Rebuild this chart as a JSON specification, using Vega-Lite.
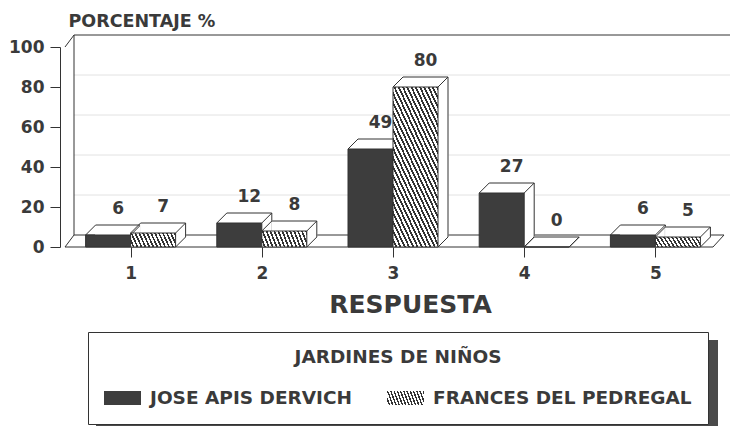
{
  "$schema": "https://vega.github.io/schema/vega-lite/v6.json",
  "width": 666,
  "height": 200,
  "autosize": "none",
  "padding": {"left": 60, "top": 47, "right": 6, "bottom": 179},
  "background": "white",
  "config": {"view": {"stroke": null}, "font": "DejaVu Sans", "axis": {"labelOverlap": false}, "axisY": {"labelOverlap": false}},
  "datasets": {
    "bars": [
      {"cat": 1, "series": "JOSE APIS DERVICH", "value": 6},
      {"cat": 2, "series": "JOSE APIS DERVICH", "value": 12},
      {"cat": 3, "series": "JOSE APIS DERVICH", "value": 49},
      {"cat": 4, "series": "JOSE APIS DERVICH", "value": 27},
      {"cat": 5, "series": "JOSE APIS DERVICH", "value": 6},
      {"cat": 1, "series": "FRANCES DEL PEDREGAL", "value": 7},
      {"cat": 2, "series": "FRANCES DEL PEDREGAL", "value": 8},
      {"cat": 3, "series": "FRANCES DEL PEDREGAL", "value": 80},
      {"cat": 4, "series": "FRANCES DEL PEDREGAL", "value": 0},
      {"cat": 5, "series": "FRANCES DEL PEDREGAL", "value": 5}
    ],
    "grid": [{"v": 20}, {"v": 40}, {"v": 60}, {"v": 80}],
    "frame": [{}]
  },
  "data": {"name": "bars"},
  "layer": [
    {
      "data": {"name": "grid"},
      "mark": {"type": "rule", "color": "#e2e2e2", "strokeWidth": 1, "xOffset": 9, "x2Offset": 9, "yOffset": -12, "y2Offset": -12},
      "encoding": {
        "x": {"datum": 0.5, "type": "quantitative", "scale": {"domain": [0.5, 5.5], "nice": false, "zero": false},
          "axis": {"values": [1, 2, 3, 4, 5], "format": "d", "domain": false, "grid": false, "tickSize": 10, "tickColor": "#333", "tickWidth": 1, "labelPadding": 8, "labelFontSize": 17, "labelFontWeight": "bold", "labelColor": "#3a3a3a", "labelFlush": false, "labelOverlap": false, "title": "RESPUESTA", "titleFontSize": 25, "titleFontWeight": "bold", "titleColor": "#3a3a3a", "titleX": 350, "titleY": 65, "titleAlign": "center", "titleBaseline": "alphabetic"}},
        "x2": {"datum": 5.5},
        "y": {"field": "v", "type": "quantitative", "scale": {"domain": [0, 100], "nice": false},
          "axis": {"values": [0, 20, 40, 60, 80, 100], "tickCount": 6, "domain": true, "domainColor": "#333", "grid": false, "tickSize": 10, "tickColor": "#333", "labelPadding": 6, "labelFontSize": 17, "labelFontWeight": "bold", "labelColor": "#3a3a3a", "labelFlush": false, "labelOverlap": false, "labelBound": false, "title": "PORCENTAJE %", "titleAngle": 0, "titleX": 8, "titleY": -21, "titleAlign": "left", "titleBaseline": "alphabetic", "titleFontSize": 17.5, "titleFontWeight": "bold", "titleColor": "#3a3a3a"}}
      }
    },
    {
      "data": {"name": "frame"},
      "mark": {"type": "rule", "color": "#333", "strokeWidth": 1, "xOffset": 9, "x2Offset": 9, "yOffset": -12, "y2Offset": -12},
      "encoding": {"x": {"datum": 0.5, "type": "quantitative"}, "x2": {"datum": 5.5}, "y": {"datum": 100, "type": "quantitative"}}
    },
    {
      "data": {"name": "frame"},
      "mark": {"type": "rule", "color": "#333", "strokeWidth": 1, "xOffset": 9, "x2Offset": 9, "yOffset": -12, "y2Offset": -12},
      "encoding": {"x": {"datum": 0.5, "type": "quantitative"}, "y": {"datum": 0, "type": "quantitative"}, "y2": {"datum": 100}}
    },
    {
      "data": {"name": "frame"},
      "mark": {"type": "rule", "color": "#333", "strokeWidth": 1, "xOffset": 0, "x2Offset": 9, "yOffset": 0, "y2Offset": -12},
      "encoding": {"x": {"datum": 0.5, "type": "quantitative"}, "x2": {"datum": 0.5}, "y": {"datum": 100, "type": "quantitative"}, "y2": {"datum": 100}}
    },
    {
      "data": {"name": "frame"},
      "mark": {"type": "rule", "color": "#333", "strokeWidth": 1, "xOffset": 0, "x2Offset": 9, "yOffset": 0, "y2Offset": -12},
      "encoding": {"x": {"datum": 0.5, "type": "quantitative"}, "x2": {"datum": 0.5}, "y": {"datum": 0, "type": "quantitative"}, "y2": {"datum": 0}}
    },
    {
      "data": {"name": "frame"},
      "mark": {"type": "rule", "color": "#333", "strokeWidth": 1, "x2Offset": -8},
      "encoding": {"x": {"datum": 0.5, "type": "quantitative"}, "x2": {"datum": 5.5}, "y": {"datum": 0, "type": "quantitative"}}
    },
    {
      "data": {"name": "frame"},
      "mark": {"type": "rule", "color": "#333", "strokeWidth": 1, "xOffset": 9, "x2Offset": 3, "yOffset": -12, "y2Offset": -12},
      "encoding": {"x": {"datum": 0.5, "type": "quantitative"}, "x2": {"datum": 5.5}, "y": {"datum": 0, "type": "quantitative"}}
    },
    {
      "data": {"name": "frame"},
      "mark": {"type": "rule", "color": "#333", "strokeWidth": 1, "xOffset": -8, "x2Offset": 3, "yOffset": 0, "y2Offset": -12},
      "encoding": {"x": {"datum": 5.5, "type": "quantitative"}, "x2": {"datum": 5.5}, "y": {"datum": 0, "type": "quantitative"}, "y2": {"datum": 0}}
    },
    {
      "transform": [{"filter": "datum.series === 'JOSE APIS DERVICH'"}],
      "mark": {"type": "point", "filled": true, "opacity": 0, "shape": "M-1,-1H1V-0.717H-1Z"},
      "encoding": {
        "x": {"field": "cat", "type": "quantitative"},
        "y": {"field": "value", "type": "quantitative"},
        "color": {"field": "series", "type": "nominal",
          "scale": {"domain": ["JOSE APIS DERVICH"], "range": ["#4a4a4a"]},
          "legend": {"orient": "none", "legendX": 36, "legendY": 293, "title": null, "labelExpr": "''", "labelOffset": 0, "labelFontSize": 1,
            "symbolType": "M-1,-1H1V-0.717H-1Z", "symbolSize": 386884, "symbolOpacity": 1, "symbolStrokeWidth": 0,
            "padding": 0, "strokeColor": null, "fillColor": null}
        }
      }
    },

    {
      "transform": [{"filter": "datum.series === 'JOSE APIS DERVICH'"}],
      "mark": {"type": "bar", "width": 45, "xOffset": -12.5, "yOffset": -10, "y2Offset": -10, "fill": "white", "stroke": "white", "strokeWidth": 1},
      "encoding": {"x": {"field": "cat", "type": "quantitative"}, "y": {"field": "value", "type": "quantitative", "stack": null}, "y2": {"datum": 0}}
    },
    {
      "transform": [{"filter": "datum.series === 'JOSE APIS DERVICH'"}],
      "mark": {"type": "bar", "width": 45, "xOffset": -22.5, "stroke": "#333", "strokeWidth": 1},
      "encoding": {
        "x": {"field": "cat", "type": "quantitative"},
        "y": {"field": "value", "type": "quantitative", "stack": null},
        "y2": {"datum": 0},
        "fill": {"field": "series", "type": "nominal", "scale": {"domain": ["JOSE APIS DERVICH"], "range": ["#3d3d3d"]}, "legend": null},
        "opacity": {"field": "series", "type": "nominal",
          "scale": {"domain": ["JOSE APIS DERVICH", "FRANCES DEL PEDREGAL"], "range": [1, 1]},
          "legend": {"orient": "none", "legendX": 28, "legendY": 285, "direction": "horizontal", "columns": 2, "columnPadding": 34,
            "title": "JARDINES DE NIÑOS", "titleFontSize": 18.5, "titleFontWeight": "bold", "titleColor": "#3a3a3a", "titleAnchor": "middle", "titlePadding": 13, "titleLimit": 600,
            "labelFontSize": 18.5, "labelFontWeight": "bold", "labelColor": "#3a3a3a", "labelLimit": 400, "labelOffset": 9,
            "symbolType": "M-1,-0.378H1V0.378H-1Z", "symbolSize": 1369, "symbolOpacity": 1, "symbolStrokeWidth": 0,
            "symbolFillColor": {"expr": "datum.value === 'FRANCES DEL PEDREGAL' ? {gradient: 'linear', x1: 0, y1: 1, x2: 1.118, y2: 0.8435, stops: [{offset: 0, color: '#fff'}, {offset: 0.0423, color: '#fff'}, {offset: 0.0423, color: '#333'}, {offset: 0.0769, color: '#333'}, {offset: 0.0769, color: '#fff'}, {offset: 0.1192, color: '#fff'}, {offset: 0.1192, color: '#333'}, {offset: 0.1538, color: '#333'}, {offset: 0.1538, color: '#fff'}, {offset: 0.1961, color: '#fff'}, {offset: 0.1961, color: '#333'}, {offset: 0.2308, color: '#333'}, {offset: 0.2308, color: '#fff'}, {offset: 0.2731, color: '#fff'}, {offset: 0.2731, color: '#333'}, {offset: 0.3077, color: '#333'}, {offset: 0.3077, color: '#fff'}, {offset: 0.35, color: '#fff'}, {offset: 0.35, color: '#333'}, {offset: 0.3846, color: '#333'}, {offset: 0.3846, color: '#fff'}, {offset: 0.4269, color: '#fff'}, {offset: 0.4269, color: '#333'}, {offset: 0.4615, color: '#333'}, {offset: 0.4615, color: '#fff'}, {offset: 0.5038, color: '#fff'}, {offset: 0.5038, color: '#333'}, {offset: 0.5385, color: '#333'}, {offset: 0.5385, color: '#fff'}, {offset: 0.5808, color: '#fff'}, {offset: 0.5808, color: '#333'}, {offset: 0.6154, color: '#333'}, {offset: 0.6154, color: '#fff'}, {offset: 0.6577, color: '#fff'}, {offset: 0.6577, color: '#333'}, {offset: 0.6923, color: '#333'}, {offset: 0.6923, color: '#fff'}, {offset: 0.7346, color: '#fff'}, {offset: 0.7346, color: '#333'}, {offset: 0.7692, color: '#333'}, {offset: 0.7692, color: '#fff'}, {offset: 0.8115, color: '#fff'}, {offset: 0.8115, color: '#333'}, {offset: 0.8462, color: '#333'}, {offset: 0.8462, color: '#fff'}, {offset: 0.8885, color: '#fff'}, {offset: 0.8885, color: '#333'}, {offset: 0.9231, color: '#333'}, {offset: 0.9231, color: '#fff'}, {offset: 0.9654, color: '#fff'}, {offset: 0.9654, color: '#333'}, {offset: 1, color: '#333'}]} : '#3d3d3d'"},
            "padding": 16, "strokeColor": "#333", "fillColor": "white", "cornerRadius": 0}
        }
      }
    },
    {
      "transform": [{"filter": "datum.series === 'JOSE APIS DERVICH'"}],
      "mark": {"type": "rule", "color": "#333", "strokeWidth": 1, "xOffset": -35, "x2Offset": 10, "yOffset": -10, "y2Offset": -10},
      "encoding": {"x": {"field": "cat", "type": "quantitative"}, "x2": {"field": "cat"}, "y": {"field": "value", "type": "quantitative"}}
    },
    {
      "transform": [{"filter": "datum.series === 'JOSE APIS DERVICH'"}],
      "mark": {"type": "rule", "color": "#333", "strokeWidth": 1, "xOffset": 10, "x2Offset": 10, "yOffset": -10, "y2Offset": -10},
      "encoding": {"x": {"field": "cat", "type": "quantitative"}, "y": {"field": "value", "type": "quantitative"}, "y2": {"datum": 0}}
    },
    {
      "transform": [{"filter": "datum.series === 'JOSE APIS DERVICH'"}],
      "mark": {"type": "rule", "color": "#333", "strokeWidth": 1, "xOffset": -45, "x2Offset": -35, "yOffset": 0, "y2Offset": -10},
      "encoding": {"x": {"field": "cat", "type": "quantitative"}, "x2": {"field": "cat"}, "y": {"field": "value", "type": "quantitative"}, "y2": {"field": "value"}}
    },
    {
      "transform": [{"filter": "datum.series === 'JOSE APIS DERVICH'"}],
      "mark": {"type": "rule", "color": "#333", "strokeWidth": 1, "xOffset": 0, "x2Offset": 10, "yOffset": 0, "y2Offset": -10},
      "encoding": {"x": {"field": "cat", "type": "quantitative"}, "x2": {"field": "cat"}, "y": {"field": "value", "type": "quantitative"}, "y2": {"field": "value"}}
    },
    {
      "transform": [{"filter": "datum.series === 'JOSE APIS DERVICH'"}],
      "mark": {"type": "rule", "color": "#333", "strokeWidth": 1, "xOffset": 0, "x2Offset": 10, "yOffset": 0, "y2Offset": -10},
      "encoding": {"x": {"field": "cat", "type": "quantitative"}, "x2": {"field": "cat"}, "y": {"datum": 0, "type": "quantitative"}, "y2": {"datum": 0}}
    },

    {
      "transform": [{"filter": "datum.series === 'FRANCES DEL PEDREGAL'"}],
      "mark": {"type": "bar", "width": 45, "xOffset": 32.5, "yOffset": -10, "y2Offset": -10, "fill": "white", "stroke": "white", "strokeWidth": 1},
      "encoding": {"x": {"field": "cat", "type": "quantitative"}, "y": {"field": "value", "type": "quantitative", "stack": null}, "y2": {"datum": 0}}
    },
    {
      "transform": [{"filter": "datum.series === 'FRANCES DEL PEDREGAL'"}],
      "mark": {"type": "bar", "width": 45, "xOffset": 22.5, "stroke": "#333", "strokeWidth": 1},
      "encoding": {
        "x": {"field": "cat", "type": "quantitative"},
        "y": {"field": "value", "type": "quantitative", "stack": null},
        "y2": {"datum": 0},
        "fill": {
          "condition": {"test": "datum.value > 50", "value": {"gradient": "linear", "x1": 0, "y1": 1, "x2": 0.7093, "y2": -0.1753, "stops": [
              {"offset": 0, "color": "#fff"}, {"offset": 0.0196, "color": "#fff"}, {"offset": 0.0196, "color": "#333"}, {"offset": 0.0357, "color": "#333"},
              {"offset": 0.0357, "color": "#fff"}, {"offset": 0.0553, "color": "#fff"}, {"offset": 0.0553, "color": "#333"}, {"offset": 0.0714, "color": "#333"},
              {"offset": 0.0714, "color": "#fff"}, {"offset": 0.091, "color": "#fff"}, {"offset": 0.091, "color": "#333"}, {"offset": 0.1071, "color": "#333"},
              {"offset": 0.1071, "color": "#fff"}, {"offset": 0.1267, "color": "#fff"}, {"offset": 0.1267, "color": "#333"}, {"offset": 0.1429, "color": "#333"},
              {"offset": 0.1429, "color": "#fff"}, {"offset": 0.1625, "color": "#fff"}, {"offset": 0.1625, "color": "#333"}, {"offset": 0.1786, "color": "#333"},
              {"offset": 0.1786, "color": "#fff"}, {"offset": 0.1982, "color": "#fff"}, {"offset": 0.1982, "color": "#333"}, {"offset": 0.2143, "color": "#333"},
              {"offset": 0.2143, "color": "#fff"}, {"offset": 0.2339, "color": "#fff"}, {"offset": 0.2339, "color": "#333"}, {"offset": 0.25, "color": "#333"},
              {"offset": 0.25, "color": "#fff"}, {"offset": 0.2696, "color": "#fff"}, {"offset": 0.2696, "color": "#333"}, {"offset": 0.2857, "color": "#333"},
              {"offset": 0.2857, "color": "#fff"}, {"offset": 0.3053, "color": "#fff"}, {"offset": 0.3053, "color": "#333"}, {"offset": 0.3214, "color": "#333"},
              {"offset": 0.3214, "color": "#fff"}, {"offset": 0.341, "color": "#fff"}, {"offset": 0.341, "color": "#333"}, {"offset": 0.3571, "color": "#333"},
              {"offset": 0.3571, "color": "#fff"}, {"offset": 0.3767, "color": "#fff"}, {"offset": 0.3767, "color": "#333"}, {"offset": 0.3929, "color": "#333"},
              {"offset": 0.3929, "color": "#fff"}, {"offset": 0.4125, "color": "#fff"}, {"offset": 0.4125, "color": "#333"}, {"offset": 0.4286, "color": "#333"},
              {"offset": 0.4286, "color": "#fff"}, {"offset": 0.4482, "color": "#fff"}, {"offset": 0.4482, "color": "#333"}, {"offset": 0.4643, "color": "#333"},
              {"offset": 0.4643, "color": "#fff"}, {"offset": 0.4839, "color": "#fff"}, {"offset": 0.4839, "color": "#333"}, {"offset": 0.5, "color": "#333"},
              {"offset": 0.5, "color": "#fff"}, {"offset": 0.5196, "color": "#fff"}, {"offset": 0.5196, "color": "#333"}, {"offset": 0.5357, "color": "#333"},
              {"offset": 0.5357, "color": "#fff"}, {"offset": 0.5553, "color": "#fff"}, {"offset": 0.5553, "color": "#333"}, {"offset": 0.5714, "color": "#333"},
              {"offset": 0.5714, "color": "#fff"}, {"offset": 0.591, "color": "#fff"}, {"offset": 0.591, "color": "#333"}, {"offset": 0.6071, "color": "#333"},
              {"offset": 0.6071, "color": "#fff"}, {"offset": 0.6267, "color": "#fff"}, {"offset": 0.6267, "color": "#333"}, {"offset": 0.6429, "color": "#333"},
              {"offset": 0.6429, "color": "#fff"}, {"offset": 0.6625, "color": "#fff"}, {"offset": 0.6625, "color": "#333"}, {"offset": 0.6786, "color": "#333"},
              {"offset": 0.6786, "color": "#fff"}, {"offset": 0.6982, "color": "#fff"}, {"offset": 0.6982, "color": "#333"}, {"offset": 0.7143, "color": "#333"},
              {"offset": 0.7143, "color": "#fff"}, {"offset": 0.7339, "color": "#fff"}, {"offset": 0.7339, "color": "#333"}, {"offset": 0.75, "color": "#333"},
              {"offset": 0.75, "color": "#fff"}, {"offset": 0.7696, "color": "#fff"}, {"offset": 0.7696, "color": "#333"}, {"offset": 0.7857, "color": "#333"},
              {"offset": 0.7857, "color": "#fff"}, {"offset": 0.8053, "color": "#fff"}, {"offset": 0.8053, "color": "#333"}, {"offset": 0.8214, "color": "#333"},
              {"offset": 0.8214, "color": "#fff"}, {"offset": 0.841, "color": "#fff"}, {"offset": 0.841, "color": "#333"}, {"offset": 0.8571, "color": "#333"},
              {"offset": 0.8571, "color": "#fff"}, {"offset": 0.8767, "color": "#fff"}, {"offset": 0.8767, "color": "#333"}, {"offset": 0.8929, "color": "#333"},
              {"offset": 0.8929, "color": "#fff"}, {"offset": 0.9125, "color": "#fff"}, {"offset": 0.9125, "color": "#333"}, {"offset": 0.9286, "color": "#333"},
              {"offset": 0.9286, "color": "#fff"}, {"offset": 0.9482, "color": "#fff"}, {"offset": 0.9482, "color": "#333"}, {"offset": 0.9643, "color": "#333"},
              {"offset": 0.9643, "color": "#fff"}, {"offset": 0.9839, "color": "#fff"}, {"offset": 0.9839, "color": "#333"}, {"offset": 1, "color": "#333"}]}},
          "value": {"gradient": "linear", "x1": 0, "y1": 1, "x2": 1.118, "y2": 0.8435, "stops": [
              {"offset": 0, "color": "#fff"}, {"offset": 0.0423, "color": "#fff"}, {"offset": 0.0423, "color": "#333"}, {"offset": 0.0769, "color": "#333"},
              {"offset": 0.0769, "color": "#fff"}, {"offset": 0.1192, "color": "#fff"}, {"offset": 0.1192, "color": "#333"}, {"offset": 0.1538, "color": "#333"},
              {"offset": 0.1538, "color": "#fff"}, {"offset": 0.1961, "color": "#fff"}, {"offset": 0.1961, "color": "#333"}, {"offset": 0.2308, "color": "#333"},
              {"offset": 0.2308, "color": "#fff"}, {"offset": 0.2731, "color": "#fff"}, {"offset": 0.2731, "color": "#333"}, {"offset": 0.3077, "color": "#333"},
              {"offset": 0.3077, "color": "#fff"}, {"offset": 0.35, "color": "#fff"}, {"offset": 0.35, "color": "#333"}, {"offset": 0.3846, "color": "#333"},
              {"offset": 0.3846, "color": "#fff"}, {"offset": 0.4269, "color": "#fff"}, {"offset": 0.4269, "color": "#333"}, {"offset": 0.4615, "color": "#333"},
              {"offset": 0.4615, "color": "#fff"}, {"offset": 0.5038, "color": "#fff"}, {"offset": 0.5038, "color": "#333"}, {"offset": 0.5385, "color": "#333"},
              {"offset": 0.5385, "color": "#fff"}, {"offset": 0.5808, "color": "#fff"}, {"offset": 0.5808, "color": "#333"}, {"offset": 0.6154, "color": "#333"},
              {"offset": 0.6154, "color": "#fff"}, {"offset": 0.6577, "color": "#fff"}, {"offset": 0.6577, "color": "#333"}, {"offset": 0.6923, "color": "#333"},
              {"offset": 0.6923, "color": "#fff"}, {"offset": 0.7346, "color": "#fff"}, {"offset": 0.7346, "color": "#333"}, {"offset": 0.7692, "color": "#333"},
              {"offset": 0.7692, "color": "#fff"}, {"offset": 0.8115, "color": "#fff"}, {"offset": 0.8115, "color": "#333"}, {"offset": 0.8462, "color": "#333"},
              {"offset": 0.8462, "color": "#fff"}, {"offset": 0.8885, "color": "#fff"}, {"offset": 0.8885, "color": "#333"}, {"offset": 0.9231, "color": "#333"},
              {"offset": 0.9231, "color": "#fff"}, {"offset": 0.9654, "color": "#fff"}, {"offset": 0.9654, "color": "#333"}, {"offset": 1, "color": "#333"}]}
        }
      }
    },
    {
      "transform": [{"filter": "datum.series === 'FRANCES DEL PEDREGAL'"}],
      "mark": {"type": "rule", "color": "#333", "strokeWidth": 1, "xOffset": 10, "x2Offset": 55, "yOffset": -10, "y2Offset": -10},
      "encoding": {"x": {"field": "cat", "type": "quantitative"}, "x2": {"field": "cat"}, "y": {"field": "value", "type": "quantitative"}}
    },
    {
      "transform": [{"filter": "datum.series === 'FRANCES DEL PEDREGAL'"}],
      "mark": {"type": "rule", "color": "#333", "strokeWidth": 1, "xOffset": 55, "x2Offset": 55, "yOffset": -10, "y2Offset": -10},
      "encoding": {"x": {"field": "cat", "type": "quantitative"}, "y": {"field": "value", "type": "quantitative"}, "y2": {"datum": 0}}
    },
    {
      "transform": [{"filter": "datum.series === 'FRANCES DEL PEDREGAL'"}],
      "mark": {"type": "rule", "color": "#333", "strokeWidth": 1, "xOffset": 0, "x2Offset": 10, "yOffset": 0, "y2Offset": -10},
      "encoding": {"x": {"field": "cat", "type": "quantitative"}, "x2": {"field": "cat"}, "y": {"field": "value", "type": "quantitative"}, "y2": {"field": "value"}}
    },
    {
      "transform": [{"filter": "datum.series === 'FRANCES DEL PEDREGAL'"}],
      "mark": {"type": "rule", "color": "#333", "strokeWidth": 1, "xOffset": 45, "x2Offset": 55, "yOffset": 0, "y2Offset": -10},
      "encoding": {"x": {"field": "cat", "type": "quantitative"}, "x2": {"field": "cat"}, "y": {"field": "value", "type": "quantitative"}, "y2": {"field": "value"}}
    },
    {
      "transform": [{"filter": "datum.series === 'FRANCES DEL PEDREGAL'"}],
      "mark": {"type": "rule", "color": "#333", "strokeWidth": 1, "xOffset": 45, "x2Offset": 55, "yOffset": 0, "y2Offset": -10},
      "encoding": {"x": {"field": "cat", "type": "quantitative"}, "x2": {"field": "cat"}, "y": {"datum": 0, "type": "quantitative"}, "y2": {"datum": 0}}
    },

    {
      "transform": [{"filter": "datum.series === 'JOSE APIS DERVICH'"}],
      "mark": {"type": "text", "font": "DejaVu Sans", "fontWeight": "bold", "fontSize": 17, "color": "#3a3a3a", "align": "center", "baseline": "middle", "xOffset": -12.5, "yOffset": -26},
      "encoding": {"x": {"field": "cat", "type": "quantitative"}, "y": {"field": "value", "type": "quantitative"}, "text": {"field": "value", "type": "quantitative"}}
    },
    {
      "transform": [{"filter": "datum.series === 'FRANCES DEL PEDREGAL'"}],
      "mark": {"type": "text", "font": "DejaVu Sans", "fontWeight": "bold", "fontSize": 17, "color": "#3a3a3a", "align": "center", "baseline": "middle", "xOffset": 32.5, "yOffset": -26},
      "encoding": {"x": {"field": "cat", "type": "quantitative"}, "y": {"field": "value", "type": "quantitative"}, "text": {"field": "value", "type": "quantitative"}}
    }
  ]
}
